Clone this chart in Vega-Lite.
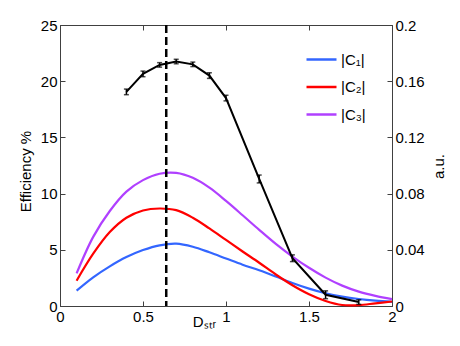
{
  "$schema": "https://vega.github.io/schema/vega-lite/v6.json",
  "width": 332,
  "height": 281,
  "autosize": {"type": "none"},
  "padding": {"left": 60, "top": 25, "right": 68, "bottom": 40},
  "background": "white",
  "config": {
    "view": {"stroke": "#404040", "strokeWidth": 1},
    "font": "Liberation Sans",
    "axis": {
      "grid": false,
      "labelFont": "Liberation Sans",
      "titleFont": "Liberation Sans",
      "labelFontSize": 15,
      "titleFontSize": 15,
      "labelColor": "black",
      "titleColor": "black",
      "titleFontWeight": "normal",
      "domainColor": "#404040",
      "tickColor": "#404040",
      "tickSize": -5,
      "labelPadding": 8,
      "labelFlush": false,
      "labelOverlap": false
    },
    "legend": {"labelFont": "Liberation Sans"}
  },
  "datasets": {
    "eff": [
      {"x": 0.4, "y": 19.05, "lo": 18.8, "hi": 19.3},
      {"x": 0.5, "y": 20.65, "lo": 20.4, "hi": 20.9},
      {"x": 0.6, "y": 21.45, "lo": 21.25, "hi": 21.65},
      {"x": 0.7, "y": 21.75, "lo": 21.55, "hi": 21.95},
      {"x": 0.8, "y": 21.5, "lo": 21.3, "hi": 21.7},
      {"x": 0.9, "y": 20.5, "lo": 20.25, "hi": 20.75},
      {"x": 1.0, "y": 18.5, "lo": 18.25, "hi": 18.75},
      {"x": 1.2, "y": 11.3, "lo": 10.95, "hi": 11.65},
      {"x": 1.4, "y": 4.25, "lo": 3.95, "hi": 4.55},
      {"x": 1.6, "y": 1.0, "lo": 0.65, "hi": 1.35},
      {"x": 1.8, "y": 0.35, "lo": 0.15, "hi": 0.55}
    ],
    "curves": [
      {"x": 0.1, "v": 0.0109, "s": "|C₁|"},
      {"x": 0.2, "v": 0.0204, "s": "|C₁|"},
      {"x": 0.3, "v": 0.0282, "s": "|C₁|"},
      {"x": 0.4, "v": 0.0348, "s": "|C₁|"},
      {"x": 0.5, "v": 0.0398, "s": "|C₁|"},
      {"x": 0.6, "v": 0.0432, "s": "|C₁|"},
      {"x": 0.7, "v": 0.0444, "s": "|C₁|"},
      {"x": 0.8, "v": 0.0422, "s": "|C₁|"},
      {"x": 0.9, "v": 0.0382, "s": "|C₁|"},
      {"x": 1.0, "v": 0.0338, "s": "|C₁|"},
      {"x": 1.1, "v": 0.0294, "s": "|C₁|"},
      {"x": 1.2, "v": 0.0254, "s": "|C₁|"},
      {"x": 1.3, "v": 0.021, "s": "|C₁|"},
      {"x": 1.4, "v": 0.0164, "s": "|C₁|"},
      {"x": 1.5, "v": 0.0124, "s": "|C₁|"},
      {"x": 1.6, "v": 0.0091, "s": "|C₁|"},
      {"x": 1.7, "v": 0.0067, "s": "|C₁|"},
      {"x": 1.8, "v": 0.005, "s": "|C₁|"},
      {"x": 1.9, "v": 0.0038, "s": "|C₁|"},
      {"x": 2.0, "v": 0.003, "s": "|C₁|"},
      {"x": 0.1, "v": 0.018, "s": "|C₂|"},
      {"x": 0.2, "v": 0.0372, "s": "|C₂|"},
      {"x": 0.3, "v": 0.0526, "s": "|C₂|"},
      {"x": 0.4, "v": 0.0628, "s": "|C₂|"},
      {"x": 0.5, "v": 0.068, "s": "|C₂|"},
      {"x": 0.6, "v": 0.0694, "s": "|C₂|"},
      {"x": 0.7, "v": 0.0682, "s": "|C₂|"},
      {"x": 0.8, "v": 0.0628, "s": "|C₂|"},
      {"x": 0.9, "v": 0.0552, "s": "|C₂|"},
      {"x": 1.0, "v": 0.047, "s": "|C₂|"},
      {"x": 1.1, "v": 0.0388, "s": "|C₂|"},
      {"x": 1.2, "v": 0.0308, "s": "|C₂|"},
      {"x": 1.3, "v": 0.0224, "s": "|C₂|"},
      {"x": 1.4, "v": 0.0148, "s": "|C₂|"},
      {"x": 1.5, "v": 0.0084, "s": "|C₂|"},
      {"x": 1.6, "v": 0.0036, "s": "|C₂|"},
      {"x": 1.7, "v": 0.0007, "s": "|C₂|"},
      {"x": 1.8, "v": 0.0006, "s": "|C₂|"},
      {"x": 1.9, "v": 0.0019, "s": "|C₂|"},
      {"x": 2.0, "v": 0.0032, "s": "|C₂|"},
      {"x": 0.1, "v": 0.0232, "s": "|C₃|"},
      {"x": 0.2, "v": 0.0492, "s": "|C₃|"},
      {"x": 0.3, "v": 0.0676, "s": "|C₃|"},
      {"x": 0.4, "v": 0.0814, "s": "|C₃|"},
      {"x": 0.5, "v": 0.0896, "s": "|C₃|"},
      {"x": 0.6, "v": 0.0941, "s": "|C₃|"},
      {"x": 0.7, "v": 0.0947, "s": "|C₃|"},
      {"x": 0.8, "v": 0.0912, "s": "|C₃|"},
      {"x": 0.9, "v": 0.0842, "s": "|C₃|"},
      {"x": 1.0, "v": 0.0748, "s": "|C₃|"},
      {"x": 1.1, "v": 0.0646, "s": "|C₃|"},
      {"x": 1.2, "v": 0.0542, "s": "|C₃|"},
      {"x": 1.3, "v": 0.0442, "s": "|C₃|"},
      {"x": 1.4, "v": 0.0352, "s": "|C₃|"},
      {"x": 1.5, "v": 0.0272, "s": "|C₃|"},
      {"x": 1.6, "v": 0.0202, "s": "|C₃|"},
      {"x": 1.7, "v": 0.0145, "s": "|C₃|"},
      {"x": 1.8, "v": 0.0102, "s": "|C₃|"},
      {"x": 1.9, "v": 0.0072, "s": "|C₃|"},
      {"x": 2.0, "v": 0.0049, "s": "|C₃|"}
    ]
  },
  "layer": [
    {
      "data": {"name": "curves"},
      "mark": {"type": "line", "strokeWidth": 2.2, "interpolate": "catmull-rom"},
      "encoding": {
        "x": {
          "field": "x", "type": "quantitative",
          "scale": {"domain": [0, 2], "nice": false},
          "axis": {"orient": "top", "labels": false, "title": null, "values": [0, 0.5, 1, 1.5, 2], "domain": false}
        },
        "y": {
          "field": "v", "type": "quantitative",
          "scale": {"domain": [0, 0.2], "nice": false},
          "axis": {
            "orient": "right", "title": "a.u.", "values": [0, 0.04, 0.08, 0.12, 0.16, 0.2],
            "format": ".2~f", "titleAngle": -90, "titleX": 46, "titleY": 141,
            "titleBaseline": "middle", "titleAlign": "center", "labelPadding": 8
          }
        },
        "color": {
          "field": "s", "type": "nominal",
          "scale": {"domain": ["|C₁|", "|C₂|", "|C₃|"], "range": ["#3366ff", "#ff0000", "#b040ff"]},
          "legend": {
            "title": null, "orient": "none", "legendX": 245, "legendY": 18,
            "symbolType": "stroke", "symbolSize": 900, "symbolStrokeWidth": 2.5,
            "labelFontSize": 15, "labelColor": "black", "padding": 0, "rowPadding": 2.5, "labelOffset": 3
          }
        }
      }
    },
    {
      "data": {"name": "eff"},
      "layer": [
        {
          "mark": {"type": "line", "color": "black", "strokeWidth": 2},
          "encoding": {
            "x": {
              "field": "x", "type": "quantitative",
              "scale": {"domain": [0, 2], "nice": false},
              "axis": {"orient": "bottom", "title": "Dₛₜᵣ", "values": [0, 0.5, 1, 1.5, 2], "format": "~g",
                       "titleX": 144, "titleY": 20, "titleBaseline": "alphabetic", "titleAlign": "center"}
            },
            "y": {
              "field": "y", "type": "quantitative", "title": "Efficiency %",
              "scale": {"domain": [0, 25], "nice": false},
              "axis": {"orient": "left", "title": "Efficiency %", "values": [0, 5, 10, 15, 20, 25],
                       "titleX": -35, "titleY": 146, "titleBaseline": "middle", "titleAlign": "center", "titleAngle": -90}
            }
          }
        },
        {
          "mark": {"type": "errorbar", "color": "black", "ticks": {"size": 5, "thickness": 1.5}, "rule": {"strokeWidth": 1.5}},
          "encoding": {
            "x": {"field": "x", "type": "quantitative"},
            "y": {"field": "lo", "type": "quantitative", "title": "Efficiency %"},
            "y2": {"field": "hi"}
          }
        }
      ]
    },
    {
      "data": {"values": [{}]},
      "mark": {"type": "rule", "color": "black", "strokeWidth": 2.5, "strokeDash": [8, 4]},
      "encoding": {
        "x": {"datum": 0.64, "type": "quantitative", "axis": null}
      }
    }
  ],
  "resolve": {"scale": {"y": "independent"}, "axis": {"x": "independent"}}
}
